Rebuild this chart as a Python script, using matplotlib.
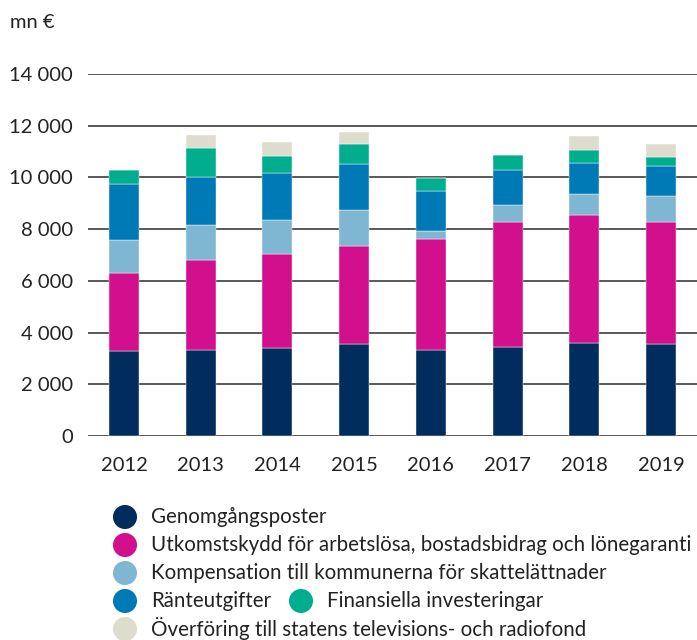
import numpy as np
import matplotlib.pyplot as plt

plt.rcParams['font.family'] = ['Lato', 'DejaVu Sans']

years = ['2012', '2013', '2014', '2015', '2016', '2017', '2018', '2019']

# mn €
genomgang = [3280, 3340, 3390, 3570, 3340, 3460, 3610, 3570]
utkomst = [3030, 3480, 3660, 3790, 4290, 4820, 4940, 4710]
kompensation = [1280, 1340, 1300, 1390, 300, 660, 790, 1000]
ranta = [2150, 1870, 1810, 1760, 1560, 1330, 1210, 1150]
finans = [530, 1100, 680, 800, 480, 580, 530, 350]
tv_fond = [0, 530, 530, 460, 0, 0, 540, 530]

labels = ['Genomgångsposter',
          'Utkomstskydd för arbetslösa, bostadsbidrag och lönegaranti',
          'Kompensation till kommunerna för skattelättnader',
          'Ränteutgifter',
          'Finansiella investeringar',
          'Överföring till statens televisions- och radiofond']
colors = ['#002c5e', '#d20f8c', '#7fb6d1', '#007ab6', '#00ae8e', '#dedccd']

series = [genomgang, utkomst, kompensation, ranta, finans, tv_fond]

fig = plt.figure(figsize=(6.97, 6.4), dpi=100)
ax = fig.add_axes([88/697, 1 - 436/640, 1 - 88/697, (436 - 74)/640])

x = np.arange(len(years))
bottom = np.zeros(len(years))
for vals, c in zip(series, colors):
    vals = np.array(vals)
    ax.bar(x, vals, bottom=bottom, width=0.39, color=c, zorder=3,
           edgecolor='white', linewidth=0.3)
    bottom += vals

ax.set_ylim(0, 14000)
ax.set_xlim(-0.47, 7.47)
yt = np.arange(0, 14001, 2000)
ax.set_yticks(yt)
ax.set_yticklabels([f'{v:,}'.replace(',', ' ') for v in yt])
for v in yt:
    ax.axhline(v, color='#2b2b2b', lw=1.1, zorder=1)
ax.set_xticks(x)
ax.set_xticklabels(years)
ax.tick_params(axis='both', length=0, labelsize=14.5, colors='#222222')
ax.tick_params(axis='y', pad=11)
ax.tick_params(axis='x', pad=15)
for s in ax.spines.values():
    s.set_visible(False)

fig.text(10/697, 1 - 22/640, 'mn €', fontsize=14.5, color='#222222',
         va='center', ha='left')

# legend drawn by hand, in pixel coordinates
lg = fig.add_axes([0, 0, 1, 1], zorder=5)
lg.set_xlim(0, 697)
lg.set_ylim(640, 0)
lg.axis('off')
leg_pos = [(125, 517), (125, 545), (125, 573), (125, 601), (301, 601), (125, 629)]
for (px, py), lab, c in zip(leg_pos, labels, colors):
    lg.scatter([px], [py], s=300, color=c, edgecolor='none')
    lg.text(px + 26, py, lab, fontsize=14.8, color='#222222', va='center', ha='left')

fig.savefig('out.png', dpi=100)
